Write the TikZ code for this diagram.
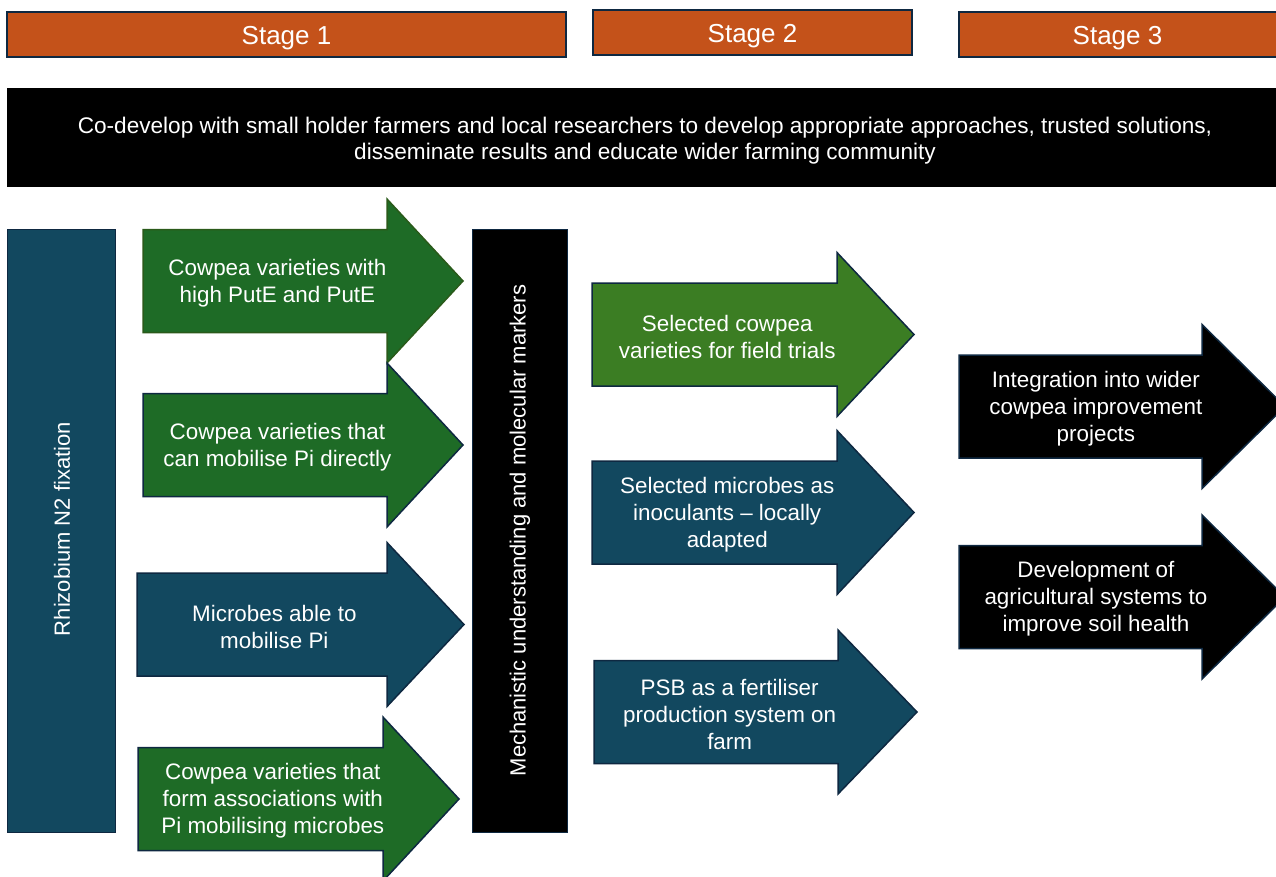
\documentclass[tikz,border=0pt]{standalone}
\usepackage{fontspec}
\setmainfont{Liberation Sans}
\begin{document}
\definecolor{stageorange}{HTML}{C4521A}
\definecolor{navyline}{HTML}{0E2841}
\definecolor{deepgreen}{HTML}{1E6B26}
\definecolor{leafgreen}{HTML}{3B7D23}
\definecolor{deepblue}{HTML}{12485F}
\definecolor{greenline}{HTML}{2A5A1A}
\begin{tikzpicture}[x=1pt,y=-1pt,
  stagebox/.style={draw=navyline,line width=2pt,fill=stageorange},
  stagetext/.style={text=white,font=\fontsize{26}{31}\selectfont,yshift=-3.5pt},
  bodytext/.style={text=white,align=center,font=\fontsize{22.4}{27}\selectfont,inner sep=0pt,yshift=-2pt},
  sidetext/.style={text=white,font=\fontsize{22}{27}\selectfont,inner sep=0pt,rotate=90},
  arrowline/.style={draw=navyline,line width=1.5pt,line join=miter},
  barbox/.style={fill=#1,draw=navyline,line width=1pt}]
\useasboundingbox (0,0) rectangle (1276,876);
\clip (0,0) rectangle (1276,876);

% block arrow: name, fill, outline, left x, centre y, shaft end x, tip x, label
\newcommand\blockarrow[8]{%
  \draw[arrowline,draw=#3,fill=#2]
    (#4,#5-51.5) -- (#6,#5-51.5) -- (#6,#5-82) -- (#7,#5)
    -- (#6,#5+82) -- (#6,#5+51.5) -- (#4,#5+51.5) -- cycle;
  \node[bodytext] (#1) at ({#4+0.42*(#7-#4)},#5) {#8};}

% stage headers
\draw[stagebox] (7,12) rectangle (566,57);
\node[stagetext] (s1) at (286.5,34.5) {Stage 1};
\draw[stagebox] (593,10) rectangle (912,55);
\node[stagetext] (s2) at (752.5,32.5) {Stage 2};
\draw[stagebox] (959,12) rectangle (1290,57);
\node[stagetext] (s3) at (1117.5,34.5) {Stage 3};

% co-development banner
\fill[black] (7,88) rectangle (1290,187);
\node[bodytext,font=\fontsize{22.6}{26}\selectfont] (banner) at (645,139)
  {Co-develop with small holder farmers and local researchers to develop appropriate approaches, trusted solutions,\\
   disseminate results and educate wider farming community};

% vertical bars
\draw[barbox=deepblue] (7,229) rectangle (115,832);
\node[sidetext] (rhizo) at (62,529) {Rhizobium N2 fixation};
\draw[barbox=black] (472,229) rectangle (567,832);
\node[sidetext] (mech) at (520,530.5) {Mechanistic understanding and molecular markers};

% stage 1 arrows
\blockarrow{a1}{deepgreen}{greenline}{143}{281}{387}{463}{Cowpea varieties with\\high PutE and PutE}
\blockarrow{a2}{deepgreen}{navyline}{143}{445}{387}{463}{Cowpea varieties that\\can mobilise Pi directly}
\blockarrow{a3}{deepblue}{navyline}{137}{624.5}{387}{464}{Microbes able to\\mobilise Pi}
\blockarrow{a4}{deepgreen}{navyline}{138}{799}{383}{459}{Cowpea varieties that\\form associations with\\Pi mobilising microbes}

% stage 2 arrows
\blockarrow{b1}{leafgreen}{navyline}{592}{334.5}{837}{914}{Selected cowpea\\varieties for field trials}
\blockarrow{b2}{deepblue}{navyline}{592}{512.5}{837}{914}{Selected microbes as\\inoculants -- locally\\adapted}
\blockarrow{b3}{deepblue}{navyline}{594}{712}{838}{917}{PSB as a fertiliser\\production system on\\farm}

% stage 3 arrows
\blockarrow{c1}{black}{navyline}{959}{406.5}{1202}{1285}{Integration into wider\\cowpea improvement\\projects}
\blockarrow{c2}{black}{navyline}{959}{597}{1202}{1285}{Development of\\agricultural systems to\\improve soil health}
\end{tikzpicture}
\end{document}
